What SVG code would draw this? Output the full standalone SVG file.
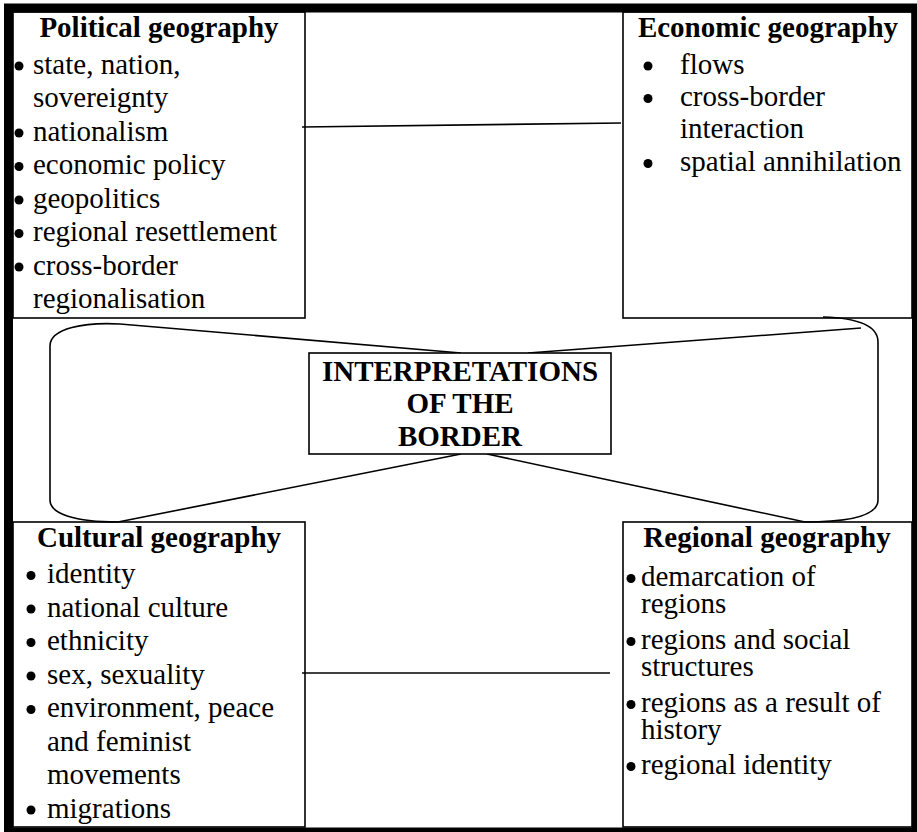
<svg xmlns="http://www.w3.org/2000/svg" width="917" height="832" viewBox="0 0 917 832">
<style>
.box{fill:#fff;stroke:#000;stroke-width:1.6}
.hd{font-family:"Liberation Serif","Times New Roman",serif;font-weight:bold;font-size:29px;fill:#000;text-anchor:middle}
.it{font-family:"Liberation Serif","Times New Roman",serif;font-weight:normal;font-size:29px;fill:#000}
.bul{fill:#000}
.ln{fill:none;stroke:#000;stroke-width:1.6}
</style>
<rect width="917" height="832" fill="#fff"/>
<g id="political">
<rect class="box" x="13" y="12" width="292" height="306"/>
<text class="hd" x="159" y="37">Political geography</text>
<circle class="bul" cx="19" cy="66" r="4.5"/><text class="it" x="33" y="73.5">state, nation,</text>
<text class="it" x="33" y="107">sovereignty</text>
<circle class="bul" cx="19" cy="133" r="4.5"/><text class="it" x="33" y="140.5">nationalism</text>
<circle class="bul" cx="19" cy="166.5" r="4.5"/><text class="it" x="33" y="174">economic policy</text>
<circle class="bul" cx="19" cy="200" r="4.5"/><text class="it" x="33" y="207.5">geopolitics</text>
<circle class="bul" cx="19" cy="233.5" r="4.5"/><text class="it" x="33" y="241">regional resettlement</text>
<circle class="bul" cx="19" cy="267" r="4.5"/><text class="it" x="33" y="274.5">cross-border</text>
<text class="it" x="33" y="308">regionalisation</text>
</g>
<g id="economic">
<rect class="box" x="623" y="12" width="289" height="306"/>
<text class="hd" x="768" y="37">Economic geography</text>
<circle class="bul" cx="648" cy="66" r="4.5"/><text class="it" x="680" y="73.5">flows</text>
<circle class="bul" cx="648" cy="98.5" r="4.5"/><text class="it" x="680" y="106">cross-border</text>
<text class="it" x="680" y="138">interaction</text>
<circle class="bul" cx="648" cy="163.5" r="4.5"/><text class="it" x="680" y="171">spatial annihilation</text>
</g>
<g id="cultural">
<rect class="box" x="13" y="522" width="292" height="305"/>
<text class="hd" x="159" y="547">Cultural geography</text>
<circle class="bul" cx="31" cy="575.5" r="4.5"/><text class="it" x="47" y="583">identity</text>
<circle class="bul" cx="31" cy="609" r="4.5"/><text class="it" x="47" y="616.5">national culture</text>
<circle class="bul" cx="31" cy="642.5" r="4.5"/><text class="it" x="47" y="650">ethnicity</text>
<circle class="bul" cx="31" cy="676" r="4.5"/><text class="it" x="47" y="683.5">sex, sexuality</text>
<circle class="bul" cx="31" cy="709.5" r="4.5"/><text class="it" x="47" y="717">environment, peace</text>
<text class="it" x="47" y="750.5">and feminist</text>
<text class="it" x="47" y="784">movements</text>
<circle class="bul" cx="31" cy="810" r="4.5"/><text class="it" x="47" y="817.5">migrations</text>
</g>
<g id="regional">
<rect class="box" x="623" y="522" width="289" height="305"/>
<text class="hd" x="767" y="547">Regional geography</text>
<circle class="bul" cx="631" cy="578.5" r="4.5"/><text class="it" x="641" y="586">demarcation of</text>
<text class="it" x="641" y="613">regions</text>
<circle class="bul" cx="631" cy="641.5" r="4.5"/><text class="it" x="641" y="649">regions and social</text>
<text class="it" x="641" y="676">structures</text>
<circle class="bul" cx="631" cy="704.5" r="4.5"/><text class="it" x="641" y="712">regions as a result of</text>
<text class="it" x="641" y="739">history</text>
<circle class="bul" cx="631" cy="766.5" r="4.5"/><text class="it" x="641" y="774">regional identity</text>
</g>
<g id="connectors">
<line class="ln" x1="302" y1="127" x2="621" y2="123"/>
<line class="ln" x1="302" y1="673" x2="610" y2="673"/>
<path class="ln" d="M120,324 C85,322 50,328 50,346 L50,500 C50,514 75,522 118,522"/>
<path class="ln" d="M823,317 C858,318 878,326 878,342 L878,500 C878,514 855,522 805,522"/>
<line class="ln" x1="120" y1="324" x2="461" y2="353"/>
<line class="ln" x1="528" y1="353" x2="861" y2="328"/>
<line class="ln" x1="461" y1="454" x2="118" y2="522"/>
<line class="ln" x1="487" y1="454" x2="805" y2="522"/>
</g>
<g id="center">
<rect class="box" x="309" y="353" width="302" height="101" stroke-width="2"/>
<text class="hd" x="460" y="381">INTERPRETATIONS</text>
<text class="hd" x="460" y="413">OF THE</text>
<text class="hd" x="460" y="446">BORDER</text>
</g>
<rect x="8.5" y="8" width="908" height="824" fill="none" stroke="#000" stroke-width="9"/>
</svg>
